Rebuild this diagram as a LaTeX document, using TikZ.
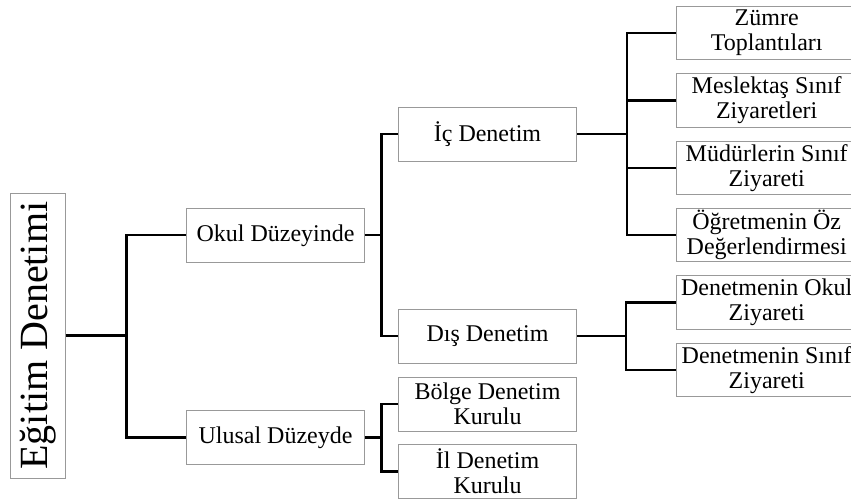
\documentclass[tikz,border=0pt]{standalone}
\usepackage{fontspec}
\setmainfont{Liberation Serif}
\usetikzlibrary{positioning}

\begin{document}
\begin{tikzpicture}[x=1pt, y=-1pt, node distance={67.4pt},
  main/.style = {draw=gray!80, line width=0.9pt, rectangle, inner sep=0pt, align=center,
    minimum height=54pt, font=\fontsize{24}{25}\selectfont},
  root/.style = {main, rotate=90, minimum width=285pt, minimum height=54.3pt,
    font=\fontsize{40}{42}\selectfont},
  mid/.style = {main, minimum width=177.6pt},
  sub/.style = {main, minimum width=178.4pt},
  leaf/.style = {main, minimum width=180pt, minimum height=53.4pt},
  line/.style = {draw=black, line width=2.4pt}]
\useasboundingbox (0,0) rectangle (851,502);

\node[root] (1) at (37.9,335.6) {Eğitim Denetimi};

\node[mid] (2) at (275.5,235.3) {Okul Düzeyinde};
\node[mid] (3) at (275.5,437.3) {Ulusal Düzeyde};

\node[sub] (4) at (487.5,134) {İç Denetim};
\node[sub] (5) at (487.5,336) {Dış Denetim};
\node[sub] (6) at (487.5,404) {Bölge Denetim\\Kurulu};
\node[sub] (7) [below of=6] {İl Denetim\\Kurulu};

\node[leaf] (8) at (766.7,33) {Zümre\\Toplantıları};
\node[leaf] (9) [below of=8] {Meslektaş Sınıf\\Ziyaretleri};
\node[leaf] (10) [below of=9] {Müdürlerin Sınıf\\Ziyareti};
\node[leaf] (11) [below of=10] {Öğretmenin Öz\\Değerlendirmesi};
\node[leaf] (12) [below of=11] {Denetmenin Okul\\Ziyareti};
\node[leaf] (13) [below of=12] {Denetmenin Sınıf\\Ziyareti};

\draw[line] (1.south) -- ++(61,0) |- (2.west);
\draw[line] (1.south) ++(61,0) |- (3.west);

\draw[line] (2.east) -- ++(16.7,0) |- (4.west);
\draw[line] (2.east) ++(16.7,0) |- (5.west);

\draw[line] (3.east) -- ++(16.7,0) |- (6.west);
\draw[line] (3.east) ++(16.7,0) |- (7.west);

\draw[line] (4.east) -- ++(50,0) |- (8.west);
\draw[line] (4.east) ++(50,0) |- (9.west);
\draw[line] (4.east) ++(50,0) |- (10.west);
\draw[line] (4.east) ++(50,0) |- (11.west);

\draw[line] (5.east) -- ++(49,0) |- (12.west);
\draw[line] (5.east) ++(49,0) |- (13.west);

\end{tikzpicture}
\end{document}
